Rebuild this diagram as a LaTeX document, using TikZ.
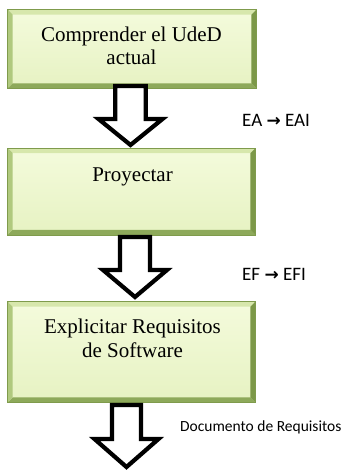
\documentclass[tikz,border=0pt]{standalone}
\usepackage{fontspec}
\setmainfont{Liberation Serif}
\newfontfamily\labfont{Carlito}
\newfontfamily\symfont{DejaVu Sans}
\usetikzlibrary{calc}
\definecolor{bevtop}{HTML}{D7E7AC}
\definecolor{bevleft}{HTML}{B0C97E}
\definecolor{bevright}{HTML}{7C9848}
\definecolor{bevbot}{HTML}{8DA95A}
\definecolor{boxedge}{HTML}{7F9B4C}
\definecolor{facetop}{HTML}{F4FBDC}
\definecolor{facebot}{HTML}{E6F2C2}
\tikzset{
  stepbox/.style={rectangle, inner sep=0pt, draw=boxedge, line width=0.6bp,
    top color=facetop, bottom color=facebot},
  steptext/.style={anchor=base, inner sep=0pt, align=center,
    font=\fontsize{21bp}{23.5bp}\selectfont},
  lab/.style={anchor=base west, inner sep=0pt, font=\labfont\fontsize{19bp}{21bp}\selectfont},
  blockarrow/.style={draw=black, fill=white, line width=4.2bp, line join=miter}
}
\newcommand\bevelbox[1]{%
  \fill[bevtop] (#1.north west) -- (#1.north east) -- ([xshift=-5bp,yshift=-5bp]#1.north east) -- ([xshift=5bp,yshift=-5bp]#1.north west) -- cycle;
  \fill[bevbot] (#1.south west) -- (#1.south east) -- ([xshift=-5bp,yshift=5bp]#1.south east) -- ([xshift=5bp,yshift=5bp]#1.south west) -- cycle;
  \fill[bevleft] (#1.north west) -- (#1.south west) -- ([xshift=5bp,yshift=5bp]#1.south west) -- ([xshift=5bp,yshift=-5bp]#1.north west) -- cycle;
  \fill[bevright] (#1.north east) -- (#1.south east) -- ([xshift=-5bp,yshift=5bp]#1.south east) -- ([xshift=-5bp,yshift=-5bp]#1.north east) -- cycle;
  \draw[boxedge, line width=0.6bp] (#1.north west) rectangle (#1.south east);
}
\newcommand\blockarrow[6]{% cx, top, shaft hw, head hw, shoulder, tip
  \draw[blockarrow] ({#1-#3},#2) -- ({#1+#3},#2) -- ({#1+#3},#5) -- ({#1+#4},#5)
    -- (#1,#6) -- ({#1-#4},#5) -- ({#1-#3},#5) -- cycle;
}
\newcommand\arr{{\symfont\bfseries\fontsize{17bp}{18bp}\selectfont →}}
\begin{document}
\begin{tikzpicture}[x=1bp, y=-1bp]
  \useasboundingbox (0,0) rectangle (342,471);
  % boxes
  \node[stepbox, minimum width=248bp, minimum height=78bp] (b1) at (132,49) {};
  \bevelbox{b1}
  \node[stepbox, minimum width=247bp, minimum height=86bp] (b2) at (131.5,191.5) {};
  \bevelbox{b2}
  \node[stepbox, minimum width=247bp, minimum height=100bp] (b3) at (131.5,352) {};
  \bevelbox{b3}
  % texts (base anchor = last line)
  \node[steptext] (t1) at (131.5,65) {Comprender el UdeD\\actual};
  \node[steptext] (t2) at (132.5,182) {Proyectar};
  \node[steptext] (t3) at (132.5,357) {Explicitar Requisitos\\de Software};
  % block arrows
  \blockarrow{130.5}{86}{15.3}{32}{119}{145}
  \blockarrow{135}{237}{15}{32}{270}{297}
  \blockarrow{126.5}{405}{14.5}{32}{439}{467}
  % labels
  \node[lab] (l1) at (242,127) {EA \arr{} EAI};
  \node[lab] (l2) at (242,280) {EF \arr{} EFI};
  \node[lab, font=\labfont\fontsize{15.5bp}{18bp}\selectfont] (l3) at (180,431) {Documento de Requisitos};
\end{tikzpicture}
\end{document}
